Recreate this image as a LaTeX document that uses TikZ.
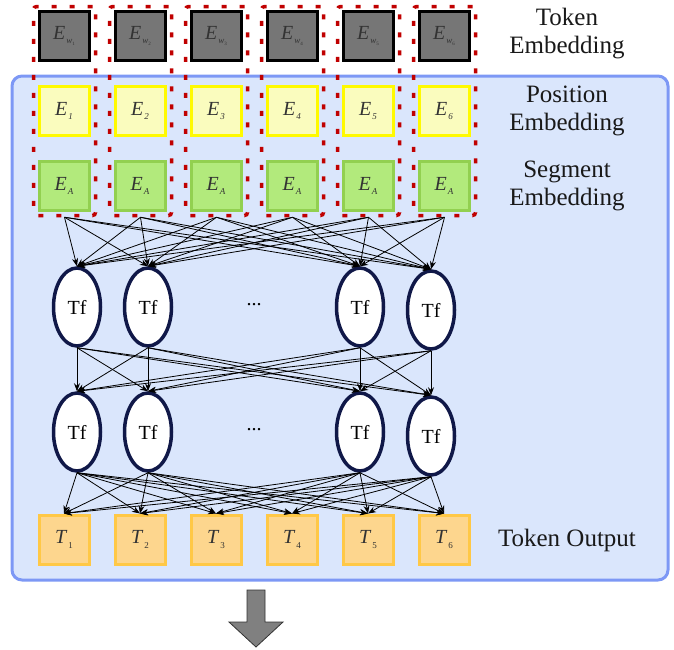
\documentclass[tikz,border=0pt]{standalone}
\usepackage{fontspec}
\setmainfont{Liberation Serif}
\usetikzlibrary{arrows.meta,shapes.geometric}
\definecolor{grpred}{RGB}{192,0,0}
\definecolor{bgblue}{RGB}{218,230,252}
\definecolor{bgline}{RGB}{125,152,245}
\definecolor{tokgray}{RGB}{118,118,118}
\definecolor{posfill}{RGB}{250,252,190}
\definecolor{posline}{RGB}{255,250,0}
\definecolor{segfill}{RGB}{178,234,124}
\definecolor{segline}{RGB}{146,208,80}
\definecolor{outfill}{RGB}{253,214,142}
\definecolor{outline}{RGB}{255,200,70}
\definecolor{tfline}{RGB}{16,24,72}
\newcommand{\emb}[2]{\textit{E}\kern1pt\raisebox{-0.45ex}{\fontsize{9}{9}\selectfont\textit{#2}}}
\newcommand{\embw}[1]{\textit{E}\kern1pt\raisebox{-0.45ex}{\fontsize{9}{9}\selectfont\textit{w}\raisebox{-0.3ex}{\fontsize{5}{5}\selectfont#1}}}
\newcommand{\outt}[1]{\textit{T}\kern1pt\raisebox{-0.45ex}{\fontsize{9}{9}\selectfont#1}}
\begin{document}
\begin{tikzpicture}[x=1pt,y=-1pt,
  box/.style={rectangle, line width=3pt, minimum width=50pt, minimum height=49pt, inner sep=0pt,
    font=\fontsize{20}{20}\selectfont, text=black!80},
  grp/.style={rectangle, draw=grpred, line width=3.5pt, dash pattern=on 5pt off 13pt,
    rounded corners=3pt, minimum width=62pt, minimum height=209pt, inner sep=0pt},
  tf/.style={ellipse, draw=tfline, fill=white, line width=3.5pt, minimum width=47pt,
    minimum height=78pt, inner sep=0pt, font=\fontsize{20}{20}\selectfont},
  lbl/.style={align=center, font=\fontsize{25}{28}\selectfont, text=black!90},
  link/.style={-{Stealth[length=8pt,width=6pt]}, line width=0.8pt}]
\useasboundingbox (0,0) rectangle (674,649);
% background of the encoder
\draw [fill=bgblue, draw=bgline, line width=3pt, rounded corners=10pt] (12,76) rectangle (668,580);

\foreach \i in {1,...,6} {
  \pgfmathsetmacro{\x}{64+76*(\i-1)}
  \node [box, draw=black, fill=tokgray] (tok\i) at (\x,36) {\embw{\i}};
  \node [box, draw=posline, fill=posfill] (pos\i) at (\x,111) {\emb{E}{\i}};
  \node [box, draw=segline, fill=segfill] (seg\i) at (\x,186) {\emb{E}{A}};
  \node [grp] (grp\i) at (\x+0.5,111) {};
  \node [box, draw=outline, fill=outfill] (out\i) at (\x,539.5) {\outt{\i}};
}

\node [tf] (tfa1) at (77,307) {Tf};
\node [tf] (tfa2) at (148,307) {Tf};
\node [tf] (tfa3) at (360,307) {Tf};
\node [tf] (tfa4) at (431,310) {Tf};
\node [tf] (tfb1) at (77,432) {Tf};
\node [tf] (tfb2) at (148,432) {Tf};
\node [tf] (tfb3) at (360,432) {Tf};
\node [tf] (tfb4) at (431,436) {Tf};
\node [font=\fontsize{20}{20}\selectfont] (dota) at (254,305) {...};
\node [font=\fontsize{20}{20}\selectfont] (dotb) at (254,430) {...};

\foreach \i in {1,...,6}
  \foreach \j in {1,...,4}
    \draw [link] (grp\i.south) -- (tfa\j.north);
\foreach \i in {1,...,4}
  \foreach \j in {1,...,4}
    \draw [link] (tfa\i.south) -- (tfb\j.north);
\foreach \i in {1,...,4}
  \foreach \j in {1,...,6}
    \draw [link] (tfb\i.south) -- (out\j.north);

\node [lbl] (toklbl) at (567,34) {Token\\Embedding};
\node [lbl] (poslbl) at (567,111) {Position\\Embedding};
\node [lbl] (seglbl) at (567,186) {Segment\\Embedding};
\node [lbl] (outlbl) at (567,540) {Token Output};

\draw [fill=gray, draw=black!80, line width=0.8pt] (247,590) -- (265,590) -- (265,622) -- (283,622)
  -- (256,647) -- (229,622) -- (247,622) -- cycle;
\end{tikzpicture}
\end{document}
